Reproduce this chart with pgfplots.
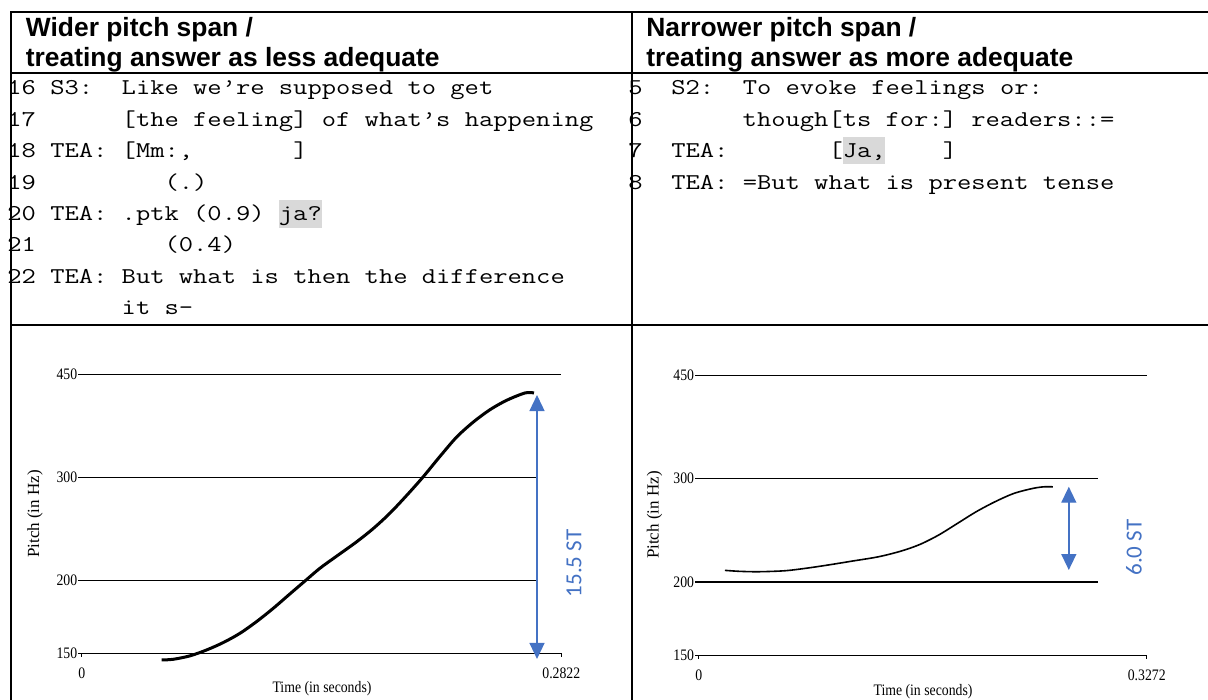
\documentclass[border=0pt]{standalone}
\usepackage{pgfplots}
\pgfplotsset{compat=1.18}
\usepackage{pgfplotstable}
\usepackage{graphicx}
\usepackage{fontspec}
\setmainfont{Liberation Serif}
\newfontfamily\headfont{Liberation Sans}
\newfontfamily\calfont{Carlito}
\newfontfamily\condserif{Liberation Serif}[FakeStretch=0.86]
\usetikzlibrary{arrows.meta}
\definecolor{arrowblue}{HTML}{4472C4}
\definecolor{hl}{HTML}{D9D9D9}
\newcommand{\mono}[1]{\scalebox{1.228}[1]{\ttfamily\fontsize{11.3pt}{14pt}\selectfont #1}}

\pgfplotstableread{
t Hz
0.04700 146.1
0.05387 146.5
0.06368 148.5
0.07349 152.0
0.08330 156.5
0.09311 162.3
0.10292 170.0
0.11272 179.1
0.12253 189.6
0.13038 198.3
0.14019 209.7
0.15000 219.9
0.16177 232.7
0.17158 245.2
0.18139 260.5
0.19120 279.3
0.20061 299.8
0.21081 325.7
0.22062 351.5
0.23043 372.9
0.24024 391.5
0.25005 406.2
0.26084 418.1
0.26613 418.1
}\leftcurve

\pgfplotstableread{
t Hz
0.01917 209.3
0.03012 208.5
0.04381 208.2
0.06298 209.0
0.07940 211.2
0.09583 214.0
0.11230 217.1
0.13140 220.8
0.14790 225.8
0.16150 231.7
0.17520 240.4
0.18890 251.6
0.20260 263.4
0.21630 273.9
0.23000 283.0
0.24370 288.6
0.25190 290.5
0.25870 290.5
}\rightcurve

\pgfplotsset{
  myaxisstyle/.style={
    scale only axis, anchor=south west, clip=false,
    ymin=150, ymax=450,
    ytick={150,200,300,450}, yticklabels={150,200,300,450},
    minor tick style={draw=none},
    axis x line*=bottom, axis y line*=left,
    y axis line style={draw=none},
    x axis line style={line width=0.7pt},
    tick align=outside, major tick length=1.8pt,
    tick style={black, line width=0.6pt},
    ticklabel style={font=\condserif\fontsize{8pt}{9pt}\selectfont},
    yticklabel style={inner xsep=0.3pt},
    xticklabel style={yshift=-2.2pt},
  },
  gridseg/.style={black, line width=0.7pt, forget plot},
}

\begin{document}
\begin{tikzpicture}
\path[use as bounding box] (0pt,0pt) rectangle (604pt,350pt);
\begin{scope}[x=0.5pt,y=-0.5pt,yshift=350pt]
  % highlights
  \fill[hl] (278.7,200) rectangle (321.6,228);
  \fill[hl] (842.5,137) rectangle (885.4,164);
  % table lines
  \draw[line width=1.3pt] (11,12) -- (1210,12);
  \draw[line width=1.3pt] (11,73) -- (1210,73);
  \draw[line width=1.3pt] (11,325) -- (1210,325);
  \draw[line width=1.3pt] (11,11.4) -- (11,702);
  \draw[line width=1.3pt] (632,11.4) -- (632,702);
  % headers
  \begin{scope}[every node/.style={anchor=base west, inner sep=0pt, font=\headfont\bfseries\fontsize{13.2pt}{15pt}\selectfont}]
    \node at (25.5,36.7) {Wider pitch span /};
    \node at (25.5,66.7) {treating answer as less adequate};
    \node at (646,36.7) {Narrower pitch span /};
    \node at (646,66.7) {treating answer as more adequate};
  \end{scope}
  % transcripts
  \begin{scope}[every node/.style={anchor=base west, inner sep=0pt, text=black}]
    \node at (7,95.0)  {\mono{16~S3:~~Like~we’re~supposed~to~get}};
    \node at (7,126.4) {\mono{17~~~~~~[the~feeling]~of~what’s~happening}};
    \node at (7,157.8) {\mono{18~TEA:~[Mm:,~~~~~~~]}};
    \node at (7,189.2) {\mono{19~~~~~~~~~(.)}};
    \node at (7,220.6) {\mono{20~TEA:~.ptk~(0.9)~ja?}};
    \node at (7,252.0) {\mono{21~~~~~~~~~(0.4)}};
    \node at (7,283.4) {\mono{22~TEA:~But~what~is~then~the~difference}};
    \node at (7,314.8) {\mono{~~~~~~~~it~s-}};
    \node at (628,95.0)  {\mono{5~~S2:~~To~evoke~feelings~or:}};
    \node at (628,126.4) {\mono{6~~~~~~~though[ts~for:]~readers::=}};
    \node at (628,157.8) {\mono{7~~TEA:~~~~~~~[Ja,~~~~]}};
    \node at (628,189.2) {\mono{8~~TEA:~=But~what~is~present~tense}};
  \end{scope}
  % axis labels
  \node[rotate=90, inner sep=0pt, font=\fontsize{8.5pt}{9pt}\selectfont] at (35,514) {Pitch (in Hz)};
  \node[rotate=90, inner sep=0pt, font=\fontsize{8.5pt}{9pt}\selectfont] at (654.5,515) {Pitch (in Hz)};
  \node[inner sep=0pt, font=\condserif\fontsize{8pt}{9pt}\selectfont] at (322,689) {Time (in seconds)};
  \node[inner sep=0pt, font=\condserif\fontsize{8pt}{9pt}\selectfont] at (923,692) {Time (in seconds)};
  % span labels
  \node[rotate=90, inner sep=0pt, text=arrowblue, font=\calfont\fontsize{11.5pt}{13pt}\selectfont] at (574,563.5) {15.5 ST};
  \node[rotate=90, inner sep=0pt, text=arrowblue, font=\calfont\fontsize{11.5pt}{13pt}\selectfont] at (1134,547.5) {6.0 ST};
\end{scope}

% left pitch plot
\begin{semilogyaxis}[myaxisstyle, at={(40.9pt,23.35pt)}, width=239.75pt, height=139.5pt,
  xmin=0, xmax=0.2822, xtick={0,0.2822}, xticklabels={0,0.2822}]
  \addplot[gridseg] coordinates {(0,450) (0.2822,450)};
  \addplot[gridseg] coordinates {(0,300) (0.2671,300)};
  \addplot[gridseg] coordinates {(0,200) (0.2671,200)};
  \addplot[black, line width=1.5pt, smooth] table[x=t, y=Hz] {\leftcurve};
  \draw[arrowblue, line width=0.7pt, {Triangle[width=7.5pt,length=8pt]}-{Triangle[width=7.5pt,length=8pt]}]
    (axis cs:0.2679,414.7) -- (axis cs:0.2679,146.7);
\end{semilogyaxis}

% right pitch plot
\begin{semilogyaxis}[myaxisstyle, at={(349.35pt,22.35pt)}, width=224pt, height=140pt,
  xmin=0, xmax=0.3272, xtick={0,0.3272}, xticklabels={0,0.3272}]
  \addplot[gridseg] coordinates {(0,450) (0.3272,450)};
  \addplot[gridseg] coordinates {(0,300) (0.2916,300)};
  \addplot[gridseg] coordinates {(0,200) (0.2916,200)};
  \addplot[black, line width=0.8pt, smooth] table[x=t, y=Hz] {\rightcurve};
  \draw[arrowblue, line width=0.7pt, {Triangle[width=7.5pt,length=8pt]}-{Triangle[width=7.5pt,length=8pt]}]
    (axis cs:0.2703,290.6) -- (axis cs:0.2703,209.6);
\end{semilogyaxis}
\end{tikzpicture}
\end{document}
